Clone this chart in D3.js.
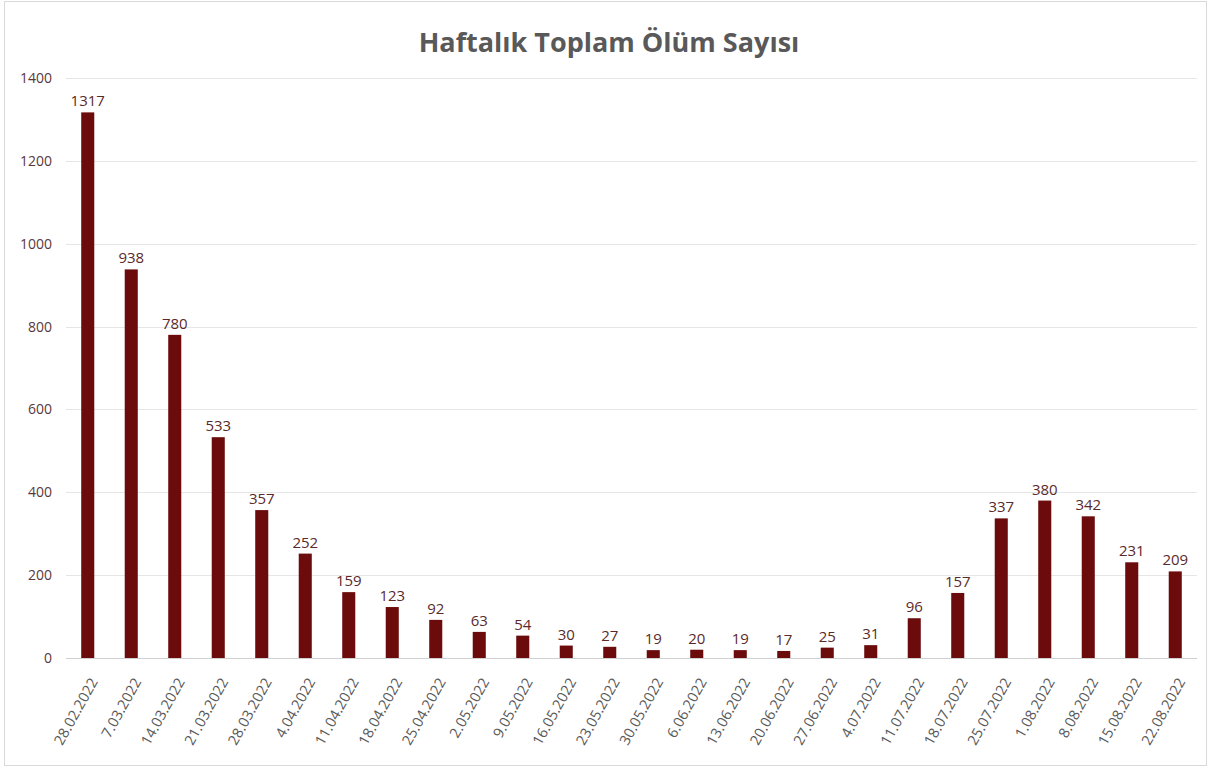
<!DOCTYPE html>
<html>
<head>
<meta charset="utf-8">
<script src="https://cdn.jsdelivr.net/npm/d3@7"></script>
<style>
html,body{margin:0;padding:0;background:#fff;}
svg{display:block;}
</style>
</head>
<body>
<svg id="chart" width="1211" height="769"></svg>
<script>
const titleText = "Haftalık Toplam Ölüm Sayısı";
const categories = ["28.02.2022","7.03.2022","14.03.2022","21.03.2022","28.03.2022","4.04.2022","11.04.2022","18.04.2022","25.04.2022","2.05.2022","9.05.2022","16.05.2022","23.05.2022","30.05.2022","6.06.2022","13.06.2022","20.06.2022","27.06.2022","4.07.2022","11.07.2022","18.07.2022","25.07.2022","1.08.2022","8.08.2022","15.08.2022","22.08.2022"];
const values = [1317,938,780,533,357,252,159,123,92,63,54,30,27,19,20,19,17,25,31,96,157,337,380,342,231,209];
const yTicks = [0,200,400,600,800,1000,1200,1400];

const svg = d3.select("#chart");
const W = 1211, H = 769;
const m = {left:66, right:14, top:78, bottom:111};
const FONT = "'Open Sans', 'Noto Sans', sans-serif";

svg.append("rect").attr("x",4.5).attr("y",1.5).attr("width",1202).attr("height",764)
  .attr("fill","#fff").attr("stroke","#d9d9d9").attr("stroke-width",1);

const x = d3.scaleBand().domain(categories).range([m.left, W-m.right]).paddingInner(0.7).paddingOuter(0.35);
const y = d3.scaleLinear().domain([0,1400]).range([H-m.bottom, m.top]);

// gridlines
svg.append("g").selectAll("line").data(yTicks).join("line")
  .attr("x1",m.left).attr("x2",W-m.right)
  .attr("y1",d=>Math.round(y(d))+0.5).attr("y2",d=>Math.round(y(d))+0.5)
  .attr("stroke",d=>d===0?"#d0d0d0":"#e6e6e6").attr("stroke-width",1);

// y axis
const yAxis = d3.axisLeft(y).tickValues(yTicks).tickFormat(d3.format("d")).tickSize(0).tickPadding(14);
const yg = svg.append("g").attr("transform",`translate(${m.left},0)`).call(yAxis);
yg.select(".domain").remove();
yg.selectAll("text").attr("font-family",FONT).attr("font-size","14px").attr("fill","#5a3838");

// bars
svg.append("g").selectAll("rect").data(values).join("rect")
  .attr("x",(d,i)=>x(categories[i]))
  .attr("y",d=>y(d))
  .attr("width",x.bandwidth())
  .attr("height",d=>y(0)-y(d))
  .attr("fill","#6b0b0b");

// data labels
svg.append("g").selectAll("text").data(values).join("text")
  .attr("x",(d,i)=>x(categories[i])+x.bandwidth()/2)
  .attr("y",d=>y(d)-6)
  .attr("text-anchor","middle")
  .attr("font-family",FONT)
  .attr("font-size","15px")
  .attr("fill","#5a2a2a")
  .text(d=>d);

// x axis
const xAxis = d3.axisBottom(x).tickSize(0).tickPadding(0);
const xg = svg.append("g").attr("transform",`translate(0,${y(0)})`).call(xAxis);
xg.select(".domain").remove();
xg.selectAll("text")
  .attr("font-family",FONT)
  .attr("font-size","14.5px")
  .attr("fill","#595959")
  .attr("text-anchor","end")
  .attr("dy","0.35em")
  .attr("transform","translate(6,21) rotate(-61)");

// title
svg.append("text").attr("x",609).attr("y",52).attr("text-anchor","middle")
  .attr("font-family",FONT).attr("font-weight","bold")
  .attr("font-size","27px").attr("fill","#595959").text(titleText);
</script>
</body>
</html>
